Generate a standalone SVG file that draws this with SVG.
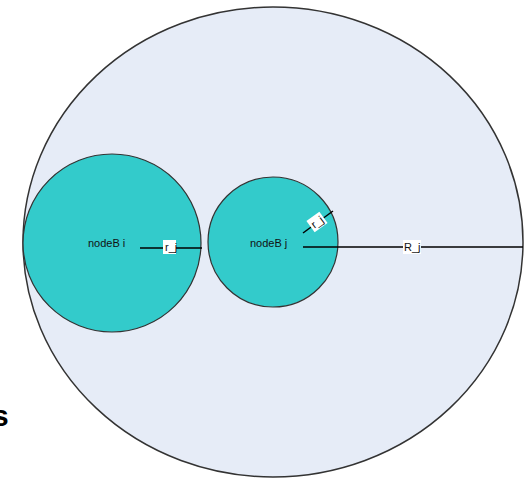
<svg xmlns="http://www.w3.org/2000/svg" width="530" height="479" viewBox="0 0 530 479">
<style>
.outer{fill:#e6ecf7;stroke:#333;stroke-width:1.5}
.node{fill:#33cbcb;stroke:#333;stroke-width:1.2}
.lbl{font-family:"Liberation Sans",Arial,sans-serif;font-size:11px;fill:#111}
.conn line{stroke:#000;stroke-width:1.5}
.tag{fill:#fff}
</style>
<rect width="530" height="479" fill="#fff"/>
<g id="outer"><ellipse class="outer" cx="273" cy="242" rx="250" ry="235"/></g>
<g id="nodeB_i"><circle class="node" cx="112" cy="243" r="89"/><text class="lbl" x="88" y="247">nodeB i</text></g>
<g id="nodeB_j"><circle class="node" cx="273" cy="242" r="65"/><text class="lbl" x="250" y="247">nodeB j</text></g>
<g class="conn">
<line x1="140" y1="248" x2="202" y2="248"/>
<rect class="tag" x="163" y="240" width="13" height="14"/>
<text class="lbl" x="165" y="251">r_j</text>
<line x1="303" y1="247" x2="523" y2="247"/>
<rect class="tag" x="403" y="240" width="18" height="14"/>
<text class="lbl" x="404" y="251">R_j</text>
<line x1="303" y1="233" x2="333" y2="211"/>
<g transform="translate(317,222) rotate(-36)"><rect class="tag" x="-8" y="-7" width="16" height="14"/><text class="lbl" x="-6" y="4">r_j</text></g>
</g>
<text x="-8" y="426" font-family="Liberation Sans,Arial,sans-serif" font-size="30" font-weight="bold" fill="#000">s</text>
</svg>
